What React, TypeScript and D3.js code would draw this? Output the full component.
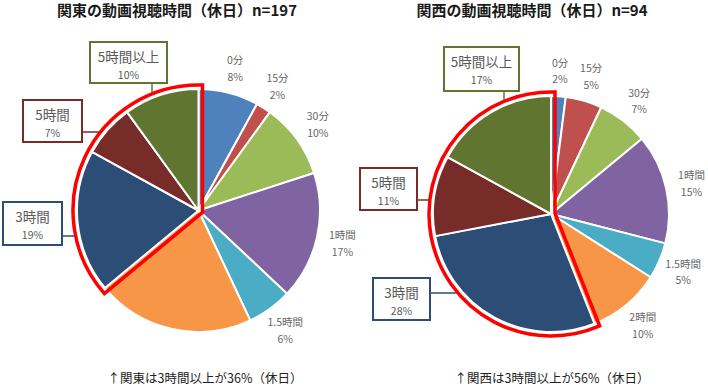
import { useEffect, useRef } from 'react';
import * as d3 from 'd3';

const categories = ['0分', '15分', '30分', '1時間', '1.5時間', '2時間', '3時間', '5時間', '5時間以上'];
const kantoValues = [8, 2, 10, 17, 6, 21, 19, 7, 10];
const kansaiValues = [2, 5, 7, 15, 5, 10, 28, 11, 17];
const sliceColors = ['#4F81BD', '#C0504D', '#9BBB59', '#8064A2', '#4BACC6', '#F79646', '#2C4D75', '#772C2A', '#5F7530'];
const kantoTitle = '関東の動画視聴時間（休日）n=197';
const kansaiTitle = '関西の動画視聴時間（休日）n=94';
const kantoNote = '↑関東は3時間以上が36%（休日）';
const kansaiNote = '↑関西は3時間以上が56%（休日）';
const highlightFrom = '3時間';
const boxedCategories = ['3時間', '5時間', '5時間以上'];

const FONT = '"Noto Sans CJK JP", "Noto Sans", sans-serif';

interface Box { x: number; y: number; w: number; h: number; lineX?: number; lineY?: number }
interface Panel {
  values: number[];
  title: string;
  note: string;
  cx: number;
  cy: number;
  r: number;
  titleX: number;
  noteX: number;
  hidden: string[];
  boxes: Record<string, Box>;
}

const panels: Panel[] = [
  {
    values: kantoValues, title: kantoTitle, note: kantoNote,
    cx: 198.5, cy: 210.5, r: 121.5, titleX: 177, noteX: 205,
    hidden: ['2時間'],
    boxes: {
      '5時間以上': { x: 90, y: 42, w: 77, h: 41, lineX: 152 },
      '5時間': { x: 23, y: 100, w: 59, h: 42, lineY: 132 },
      '3時間': { x: 3, y: 202, w: 59, h: 43, lineY: 236 },
    },
  },
  {
    values: kansaiValues, title: kansaiTitle, note: kansaiNote,
    cx: 551, cy: 214, r: 118, titleX: 532, noteX: 552,
    hidden: [],
    boxes: {
      '5時間以上': { x: 444, y: 47, w: 75, h: 44, lineX: 504 },
      '5時間': { x: 360, y: 168, w: 57, h: 42, lineY: 200 },
      '3時間': { x: 373, y: 278, w: 57, h: 42, lineY: 293 },
    },
  },
];

export default function App() {
  const svgRef = useRef<SVGSVGElement>(null);

  useEffect(() => {
    if (!svgRef.current) return;
    const svg = d3.select(svgRef.current);
    svg.selectAll('*').remove();

    const color = d3.scaleOrdinal<string, string>().domain(categories).range(sliceColors);

    panels.forEach(p => {
      const data = categories.map((c, i) => ({ cat: c, value: p.values[i] }));
      const arcs = d3.pie<{ cat: string; value: number }>().sort(null).value(d => d.value)(data);
      const arc = d3.arc<d3.PieArcDatum<{ cat: string; value: number }>>().innerRadius(0).outerRadius(p.r);
      const labelArc = d3.arc<d3.PieArcDatum<{ cat: string; value: number }>>()
        .innerRadius(p.r + 26).outerRadius(p.r + 26);

      const g = svg.append('g').attr('transform', `translate(${p.cx},${p.cy})`);

      g.selectAll('path.slice')
        .data(arcs)
        .enter()
        .append('path')
        .attr('class', 'slice')
        .attr('d', arc)
        .attr('fill', d => color(d.data.cat))
        .attr('stroke', '#fff')
        .attr('stroke-width', 2)
        .attr('stroke-linejoin', 'round');

      // red outline around the "3時間以上" wedge, offset outward a few px
      const startIdx = categories.indexOf(highlightFrom);
      const a0 = arcs[startIdx].startAngle;
      const a1 = 2 * Math.PI;
      const d = 4;
      const R = p.r + d;
      const dir = (a: number) => [Math.sin(a), -Math.cos(a)];
      const half = (a1 - a0) / 2;
      const mid = a0 + half;
      const apexDist = d / Math.sin(half);
      const [ox, oy] = dir(mid + Math.PI);
      const apex = [ox * apexDist, oy * apexDist];
      const t = Math.sqrt(R * R - d * d);
      const u0 = dir(a0), n0 = dir(a0 - Math.PI / 2);
      const u1 = dir(a1), n1 = dir(a1 + Math.PI / 2);
      const p0 = [d * n0[0] + t * u0[0], d * n0[1] + t * u0[1]];
      const p1 = [d * n1[0] + t * u1[0], d * n1[1] + t * u1[1]];
      const large = a1 - a0 > Math.PI ? 1 : 0;
      g.append('path')
        .attr('d', `M${apex[0]},${apex[1]}L${p0[0]},${p0[1]}A${R},${R} 0 ${large} 1 ${p1[0]},${p1[1]}Z`)
        .attr('fill', 'none')
        .attr('stroke', '#FF0000')
        .attr('stroke-width', 3.5)
        .attr('stroke-linejoin', 'miter');

      // outside labels
      arcs.forEach(a => {
        if (boxedCategories.includes(a.data.cat) || p.hidden.includes(a.data.cat)) return;
        const [lx, ly] = labelArc.centroid(a);
        g.append('text')
          .attr('x', lx).attr('y', ly - 8)
          .attr('text-anchor', 'middle').attr('dominant-baseline', 'central')
          .attr('font-family', FONT).attr('font-size', 10.5).attr('fill', '#666')
          .text(a.data.cat);
        g.append('text')
          .attr('x', lx).attr('y', ly + 8.5)
          .attr('text-anchor', 'middle').attr('dominant-baseline', 'central')
          .attr('font-family', FONT).attr('font-size', 10.5).attr('fill', '#666')
          .text(`${a.data.value}%`);
      });

      // boxed callouts
      const CR = p.r + 5;
      arcs.forEach(a => {
        const b = p.boxes[a.data.cat];
        if (!b) return;
        const stroke = color(a.data.cat);
        if (b.lineX !== undefined) {
          const dx = b.lineX - p.cx;
          const yEnd = p.cy - Math.sqrt(CR * CR - dx * dx);
          svg.append('line')
            .attr('x1', b.lineX).attr('x2', b.lineX)
            .attr('y1', b.y + b.h).attr('y2', yEnd)
            .attr('stroke', stroke).attr('stroke-width', 1.5);
        } else if (b.lineY !== undefined) {
          const dy = b.lineY - p.cy;
          const xEnd = p.cx - Math.sqrt(CR * CR - dy * dy);
          svg.append('line')
            .attr('x1', b.x + b.w).attr('x2', xEnd)
            .attr('y1', b.lineY).attr('y2', b.lineY)
            .attr('stroke', stroke).attr('stroke-width', 1.5);
        }
        svg.append('rect')
          .attr('x', b.x).attr('y', b.y)
          .attr('width', b.w).attr('height', b.h)
          .attr('fill', '#fff')
          .attr('stroke', stroke)
          .attr('stroke-width', 2);
        svg.append('text')
          .attr('x', b.x + b.w / 2).attr('y', b.y + 14)
          .attr('text-anchor', 'middle').attr('dominant-baseline', 'central')
          .attr('font-family', FONT).attr('font-size', 13.5).attr('fill', '#595959')
          .text(a.data.cat);
        svg.append('text')
          .attr('x', b.x + b.w / 2).attr('y', b.y + 32)
          .attr('text-anchor', 'middle').attr('dominant-baseline', 'central')
          .attr('font-family', FONT).attr('font-size', 10.5).attr('fill', '#595959')
          .text(`${a.data.value}%`);
      });

      svg.append('text')
        .attr('x', p.titleX).attr('y', 16)
        .attr('text-anchor', 'middle')
        .attr('font-family', FONT).attr('font-size', 15).attr('font-weight', 'bold')
        .attr('fill', '#1a1a1a')
        .text(p.title);

      svg.append('text')
        .attr('x', p.noteX).attr('y', 383)
        .attr('text-anchor', 'middle')
        .attr('font-family', FONT).attr('font-size', 12.5)
        .attr('fill', '#222')
        .text(p.note);
    });
  }, []);

  return (
    <div style={{ position: 'fixed', left: 0, top: 0, width: 708, height: 392, background: '#fff' }}>
      <svg ref={svgRef} width={708} height={392}></svg>
    </div>
  );
}
